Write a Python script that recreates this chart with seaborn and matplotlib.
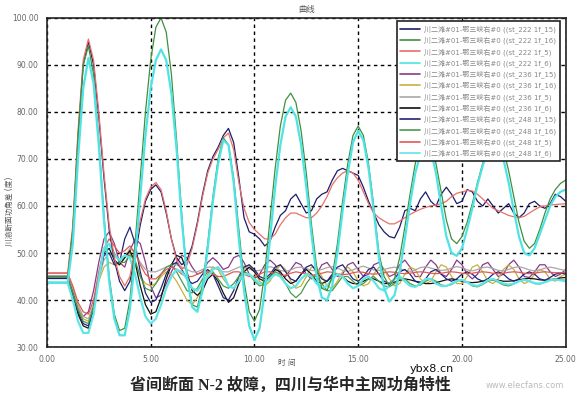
import matplotlib
matplotlib.use("Agg")
import matplotlib.pyplot as plt
import numpy as np
import pandas as pd
import seaborn as sns

# time axis of the simulation, seconds (sampled every 0.25 s)
t = np.arange(0, 25.001, 0.25)

labels = [
    "川二滩#01-鄂三峡右#0 ((st_222 1f_15)",
    "川二滩#01-鄂三峡右#0 ((st_222 1f_16)",
    "川二滩#01-鄂三峡右#0 ((st_222 1f_5)",
    "川二滩#01-鄂三峡右#0 ((st_222 1f_6)",
    "川二滩#01-鄂三峡右#0 ((st_236 1f_15)",
    "川二滩#01-鄂三峡右#0 ((st_236 1f_16)",
    "川二滩#01-鄂三峡右#0 ((st_236 1f_5)",
    "川二滩#01-鄂三峡右#0 ((st_236 1f_6)",
    "川二滩#01-鄂三峡右#0 ((st_248 1f_15)",
    "川二滩#01-鄂三峡右#0 ((st_248 1f_16)",
    "川二滩#01-鄂三峡右#0 ((st_248 1f_5)",
    "川二滩#01-鄂三峡右#0 ((st_248 1f_6)",
]
colors = ["#1c1c6b", "#3f8f3f", "#e8706a", "#4fe3e3",
          "#8a3a8a", "#c8b040", "#a8a8a8", "#111111",
          "#23237a", "#4a9a4a", "#e05a55", "#60e6e6"]

st222_15 = [44.6, 44.6, 44.6, 44.6, 44.6, 55, 74, 90, 95, 90,
            79, 66, 55, 48.5, 44, 42, 44, 49.5, 56, 61,
            63.5, 64.5, 63, 58.5, 53, 49, 47.5, 48.5, 51.5, 56.5,
            62.5, 67.5, 70.5, 72.5, 75, 76.5, 73.5, 66, 57.5, 54.5,
            54, 53, 51.5, 52.5, 55.5, 58, 59, 61.5, 62.5, 60.5,
            58.5, 59, 61.5, 62.5, 63, 65.5, 67.5, 68, 67.5, 67,
            66.5, 64, 61, 58.5, 56, 54.5, 53.5, 53.2, 55.5, 59,
            59.5, 59, 61.5, 63, 61, 60, 62.5, 64, 62.5, 60.5,
            61, 63.5, 63, 61, 60, 61.5, 60, 58.5, 59.5, 60.5,
            58.5, 57.5, 58.5, 60.5, 61, 60, 59.5, 60.5, 62.5, 62,
            61]
st222_16 = [45, 45, 45, 45, 45, 55, 75, 90, 94, 88,
            74, 58, 45, 37, 33.5, 34, 40, 52, 66, 80,
            91, 98, 100, 97, 88, 74, 58, 45, 39, 38.5,
            43, 52, 62, 70, 74.5, 73, 66, 55, 44, 37.5,
            35.5, 38, 46, 57, 68, 77, 82.5, 84, 82, 76,
            67, 56, 47, 42.5, 42, 45, 52, 61, 69, 75,
            77, 75, 69, 60, 50, 45, 43, 44.5, 49, 55.5,
            62.5, 69, 73.5, 75, 73.5, 69, 63, 57, 53, 52,
            53.5, 56.5, 60.5, 65, 69, 72.5, 74.5, 74.5, 72, 67.5,
            62, 56.5, 52.5, 51, 52, 55, 58.5, 61.5, 63.5, 64.8,
            65.5]
st222_5 = [45.7, 45.7, 45.7, 45.7, 45.7, 56, 76, 91, 95.5, 91,
           80, 67, 56, 49, 45, 43, 45, 51, 57, 61.5,
           64, 65, 63.5, 59, 53, 48.5, 46.5, 47.5, 51, 56,
           62, 67, 70, 72, 74.5, 75.5, 72, 65, 59.5, 56.5,
           55, 54, 53, 53, 54, 56, 57.5, 58.5, 58.5, 58,
           57.5, 57.5, 58.5, 60, 62, 64.5, 66, 67, 67.5, 67,
           65.5, 63, 60.5, 58.5, 57.5, 56.8, 56.2, 56.2, 56.8, 57.5,
           58.2, 58.8, 59.3, 59.7, 60, 60.2, 60.5, 61, 62, 62.7,
           63, 63.3, 63.2, 62.5, 61.5, 60.5, 59.5, 59, 58.5, 58,
           57.7, 57.5, 57.8, 58.5, 59.2, 59.8, 60, 60.2, 60.3, 60.4,
           60.5]
st222_6 = [43.7, 43.7, 43.7, 43.7, 43.7, 52, 70, 85, 91.5, 86,
           73, 57, 44, 36, 32.5, 32.5, 38, 49, 62, 75,
           85, 91, 93.3, 91, 84, 72, 57, 45, 38.5, 37.5,
           42, 51, 61, 69, 74, 73, 65, 53, 42, 34.5,
           31.5, 34, 42, 53, 64, 73, 79, 81, 79, 73,
           64, 54, 45, 40.5, 40, 43, 50, 59, 67, 73.5,
           76, 74, 68, 59, 49, 42.5, 39.7, 41, 46, 53,
           60.5, 67, 71, 73, 72, 67, 60, 53.5, 50, 49.4,
           51, 55, 59.5, 64.5, 68.5, 72, 73.5, 73, 70, 65,
           59, 53.5, 50, 49.5, 51, 54, 57, 60, 62, 63,
           63.5]
st236_15 = [45.7, 45.7, 45.7, 45.7, 45.7, 42, 38, 36.5, 37.5, 42,
            48, 53, 54.5, 52, 48, 47, 50.5, 53, 52, 48,
            43, 40.5, 41, 43.5, 46, 48, 49.5, 49, 47, 45.5,
            46, 48, 49, 48, 46.5, 47, 49, 49.5, 48, 45.5,
            44.5, 45.5, 47.5, 48.5, 47.5, 45.5, 45, 46.5, 48, 47.5,
            45.5, 44.5, 45.5, 47.5, 48, 46.5, 45, 45.5, 47.5, 48,
            46.5, 45, 45.5, 47.5, 48, 46.5, 45, 45.5, 47.5, 48.5,
            47, 45, 45, 47, 48.5, 47.5, 45.5, 45, 46.5, 48.5,
            47.5, 45.5, 44.5, 45.5, 47.5, 48, 46.5, 45, 45.5, 47.5,
            48.5, 47, 45, 44.8, 46, 47.5, 47.5, 46, 45, 45.5,
            46.5]
st236_16 = [44.6, 44.6, 44.6, 44.6, 44.6, 42, 38.5, 36, 35.5, 39,
            44, 47, 48, 47.5, 47.5, 49, 50, 48, 45, 43.5,
            43, 43.5, 45, 46, 45.5, 44, 42, 40, 39, 40.5,
            43, 45.5, 47, 46.5, 44.5, 43, 42.5, 44, 46.5, 47.5,
            46, 44, 43, 44, 46, 47.5, 46.5, 44, 42.5, 43,
            45, 47, 47, 45, 43, 42.5, 44, 46, 47, 46,
            44, 43, 43.5, 45.5, 47, 46.5, 44.5, 43, 43.5, 45.5,
            47, 46.5, 44.5, 43.5, 44, 46, 47.5, 47, 45, 43.5,
            43.5, 45, 47, 47.5, 46, 44, 43.5, 44.5, 46.5, 47.5,
            46.5, 44.5, 43.5, 44, 45.5, 46.5, 46, 44.5, 44, 45,
            45.5]
st236_5 = [45.2, 45.2, 45.2, 45.2, 45.2, 42.5, 39, 36.5, 36, 39,
           44.5, 48.5, 50, 49.5, 48.5, 49, 51, 50, 48, 46.5,
           46, 46, 46.5, 47, 47.5, 47.5, 47, 46.5, 46, 46,
           46.5, 47, 47, 46.5, 46, 46, 46.5, 47, 47.2, 46.6,
           46.2, 46.3, 46.7, 47.1, 46.8, 46.3, 46.1, 46.4, 46.9, 47,
           46.7, 46.3, 46.2, 46.5, 46.9, 47.1, 46.8, 46.3, 46.1, 46.4,
           46.9, 47.2, 46.8, 46.4, 46.3, 46.5, 46.8, 47, 46.7, 46.3,
           46.1, 46.4, 46.9, 47.1, 46.8, 46.5, 46.3, 46.4, 46.8, 47.1,
           46.9, 46.4, 46.2, 46.5, 46.9, 47, 46.7, 46.3, 46.2, 46.5,
           46.9, 47.1, 46.8, 46.4, 46.2, 46.4, 46.8, 47, 46.8, 46.5,
           46.3]
st236_6 = [44.6, 44.6, 44.6, 44.6, 44.6, 41, 37, 34.5, 34, 38,
           45, 50, 51, 48.5, 47.5, 49, 50.5, 48, 43, 39,
           37, 37.5, 40.5, 44.5, 47.5, 49.5, 49, 46, 42, 41,
           42, 44.5, 45.5, 44, 41.5, 39.5, 40.5, 43.5, 46, 47,
           46, 44.5, 44, 45, 46.5, 46, 44.5, 43.5, 44, 45.5,
           46.5, 45.5, 44, 43.5, 44, 45, 45.5, 45, 44, 43.5,
           43.5, 44, 44.5, 44.5, 44, 43.5, 43.5, 43.8, 44.2, 44.5,
           44.3, 44, 43.8, 43.5, 43.5, 43.7, 44, 44.3, 44.5, 44.3,
           44, 43.8, 43.7, 43.8, 44, 44.2, 44.3, 44.2, 44, 44,
           44.1, 44.3, 44.5, 44.6, 44.5, 44.3, 44.2, 44.3, 44.5, 44.7,
           44.8]
st248_15 = [44.6, 44.6, 44.6, 44.6, 44.6, 41.5, 37.5, 35, 34.5, 38.5,
            45, 49.5, 50, 47.5, 48, 53, 55.5, 52, 46, 41.5,
            39.5, 40, 42.5, 45.5, 47.5, 48, 46.5, 44.5, 43.5, 44,
            45.5, 46.5, 45.5, 43, 40.5, 40, 42, 45, 47, 47.5,
            46.5, 45, 44.5, 45.5, 47, 47.5, 46, 44.5, 44, 45.5,
            47, 47.5, 46, 44.5, 44, 45.5, 47, 47.5, 46, 44.5,
            44, 45, 46.5, 47, 45.5, 44, 43.5, 44.5, 46, 46.5,
            45.5, 44, 43.5, 44.5, 46, 46.5, 45.5, 44.5, 44, 44.5,
            45.5, 46, 45.5, 44.5, 44, 44.5, 45.5, 46, 45.5, 44.5,
            44, 44.5, 45.5, 46, 45.5, 44.5, 44.2, 44.8, 45.5, 45.8,
            45.5]
st248_16 = [44.6, 44.6, 44.6, 44.6, 44.6, 41.5, 38, 35.5, 35, 38.5,
            45, 50.5, 52, 50, 48, 48, 49.5, 48.5, 45, 42.5,
            42, 43.5, 45.5, 47, 47.5, 46, 44, 42, 41.5, 42.5,
            44.5, 46, 46, 44.5, 43, 42.5, 43.5, 45, 46, 45.5,
            44, 43, 43.5, 45, 46, 45.5, 43.5, 41.5, 40.5, 41.5,
            43.5, 45, 45, 43.5, 42, 42, 43.5, 45, 45, 44,
            43, 43.5, 44.5, 45, 44, 43, 42.8, 43.5, 44.5, 44.5,
            43.5, 43, 43.2, 44, 44.5, 44, 43.2, 43, 43.3, 44,
            44.3, 43.8, 43, 42.8, 43.3, 44, 44.3, 43.8, 43.2, 43,
            43.4, 44, 44.3, 44, 43.5, 43.4, 43.8, 44.3, 44.5, 44.3,
            44.2]
st248_5 = [45.7, 45.7, 45.7, 45.7, 45.7, 43, 39.5, 37.5, 37, 40,
           46, 51, 53, 51.5, 50, 50.5, 51.5, 50, 47.5, 45.5,
           44.5, 44.5, 45.5, 46.5, 47, 46.5, 45.5, 45, 45, 45.5,
           46, 46, 45.5, 45, 45, 45.5, 46, 46, 45.5, 45,
           45, 45.5, 46, 46, 45.5, 45.2, 45.3, 45.7, 46, 45.8,
           45.5, 45.3, 45.4, 45.7, 46, 45.9, 45.6, 45.4, 45.5, 45.8,
           46, 45.9, 45.6, 45.5, 45.6, 45.8, 46, 45.9, 45.7, 45.6,
           45.7, 45.9, 46, 45.9, 45.7, 45.6, 45.7, 45.9, 46, 45.9,
           45.7, 45.6, 45.7, 45.9, 46, 45.9, 45.7, 45.6, 45.7, 45.9,
           46, 45.9, 45.7, 45.6, 45.7, 45.9, 46, 45.9, 45.8, 45.8,
           45.9]
st248_6 = [43.7, 43.7, 43.7, 43.7, 43.7, 40, 35.5, 33, 33, 37,
           44.5, 51, 52, 49.5, 48.5, 49.5, 49, 45.5, 40.5, 36.5,
           35, 36, 39, 42.5, 45, 46.5, 46, 44.5, 42.5, 42,
           43.5, 45, 46.5, 47, 45.5, 43, 42.5, 44, 45.5, 45.5,
           44.5, 43.5, 43.5, 44.5, 45.5, 45, 43.5, 42.5, 43, 44.5,
           45.5, 45, 43.5, 42.5, 43, 44.5, 45.5, 45, 43.5, 42.5,
           43, 44.5, 45, 44, 42.5, 42, 43, 44.5, 45, 44,
           43, 42.8, 43.5, 44.5, 44.5, 43.5, 43, 43, 43.5, 44,
           44.3, 43.8, 43.2, 43, 43.5, 44.2, 44.5, 44, 43.5, 43.3,
           43.5, 44, 44.3, 44, 43.6, 43.5, 43.8, 44.2, 44.4, 44.2,
           44]

series = [st222_15, st222_16, st222_5, st222_6,
          st236_15, st236_16, st236_5, st236_6,
          st248_15, st248_16, st248_5, st248_6]

df = pd.concat([pd.DataFrame({"t": t, "v": s, "curve": lab})
                for s, lab in zip(series, labels)], ignore_index=True)

sns.set_style("white")
plt.rcParams["font.family"] = ["DejaVu Sans", "Noto Sans CJK SC"]

fig = plt.figure(figsize=(5.79, 3.98), dpi=100)
ax = fig.add_axes([0.081, 0.128, 0.896, 0.827])

# small curves first, the big swings on top
order = [4, 5, 6, 7, 8, 9, 10, 11, 0, 2, 1, 3]
for i in order:
    sub = df[df["curve"] == labels[i]]
    lw = 1.6 if colors[i] in ("#4fe3e3", "#60e6e6") else 0.9
    sns.lineplot(data=sub, x="t", y="v", color=colors[i], lw=lw,
                 label=labels[i], ax=ax, legend=False)

ax.set_xlim(0, 25)
ax.set_ylim(30, 100)
ax.set_xticks([0, 5, 10, 15, 20, 25])
ax.set_xticklabels(["0.00", "5.00", "10.00", "15.00", "20.00", "25.00"])
ax.set_yticks(range(30, 101, 10))
ax.set_yticklabels([f"{v:.2f}" for v in range(30, 101, 10)])
ax.tick_params(length=0, labelsize=5.5, labelcolor="#666666", pad=6)
ax.grid(True, color="black", linestyle=(0, (2.5, 2.5)), lw=1.0)
ax.set_axisbelow(True)
for sp in ax.spines.values():
    sp.set_color("#222222")
    sp.set_linewidth(1.2)
ax.set_xlabel("")
ax.set_ylabel("")
ax.set_title("曲线", fontsize=6, color="#555555", pad=4)

handles = [plt.Line2D([], [], color=c, lw=1.2) for c in colors]
leg = ax.legend(handles, labels, loc="upper right", bbox_to_anchor=(0.996, 1.0),
                fontsize=5, labelcolor="#888888", frameon=True, fancybox=False,
                handlelength=2.8, handletextpad=0.6, labelspacing=0.5,
                borderpad=0.55, framealpha=1)
leg.get_frame().set_edgecolor("#222222")
leg.get_frame().set_linewidth(1.2)

fig.text(287 / 579, 1 - 362 / 398, "时 间", fontsize=5.5, color="#555555",
         ha="center", va="center")
fig.text(0.016, 0.47, "川渝断面功角差 (度)", fontsize=5.5, color="#555555",
         rotation=90, ha="center", va="center")
fig.text(290 / 579, 1 - 386 / 398, "省间断面 N-2 故障，四川与华中主网功角特性",
         fontsize=11.5, fontweight="bold", ha="center", va="center",
         family=["Liberation Serif", "Noto Sans CJK SC"])
fig.text(432 / 579, 1 - 369 / 398, "ybx8.cn", fontsize=8, color="#111111",
         ha="center", va="center")
fig.text(525 / 579, 1 - 386 / 398, "www.elecfans.com", fontsize=6,
         color="#bbbbbb", ha="center", va="center")

fig.savefig("out.png", dpi=100)
plt.close(fig)
